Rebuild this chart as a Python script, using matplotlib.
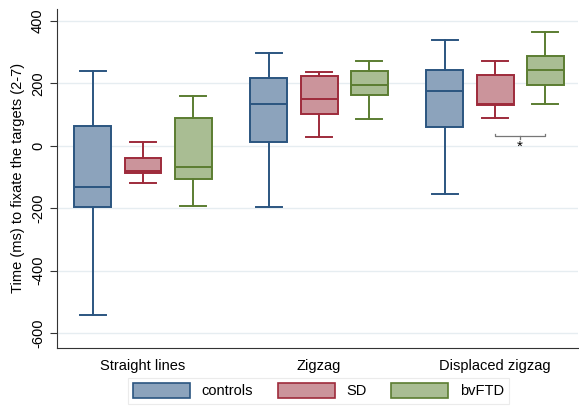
import matplotlib
matplotlib.use("Agg")
import matplotlib.pyplot as plt
from matplotlib.patches import Patch

plt.rcParams["font.family"] = ["Liberation Sans", "DejaVu Sans"]

# データ: 箱ひげ図の統計量 (ms)
categories = ["Straight lines", "Zigzag", "Displaced zigzag"]
groups = ["controls", "SD", "bvFTD"]

whislo = {
    "controls": [-542, -196, -154],
    "SD": [-119, 29, 89],
    "bvFTD": [-194, 87, 135],
}
q1 = {
    "controls": [-196, 13, 61],
    "SD": [-86, 102, 130],
    "bvFTD": [-105, 163, 196],
}
med = {
    "controls": [-132, 135, 176],
    "SD": [-80, 150, 133],
    "bvFTD": [-68, 195, 244],
}
q3 = {
    "controls": [64, 218, 242],
    "SD": [-40, 223, 226],
    "bvFTD": [90, 241, 287],
}
whishi = {
    "controls": [240, 296, 338],
    "SD": [12, 237, 271],
    "bvFTD": [159, 272, 365],
}

fills = {"controls": "#8ca3bc", "SD": "#cb949b", "bvFTD": "#a9bd93"}
edges = {"controls": "#2b5580", "SD": "#9e2b3b", "bvFTD": "#5b7d31"}
offsets = {"controls": -0.285, "SD": 0.0, "bvFTD": 0.285}

fig = plt.figure(figsize=(5.79, 4.08), dpi=100)
ax = fig.add_axes([0.098, 0.147, 0.9, 0.832])

for g in groups:
    stats = []
    for i in range(len(categories)):
        stats.append({
            "whislo": whislo[g][i], "q1": q1[g][i], "med": med[g][i],
            "q3": q3[g][i], "whishi": whishi[g][i], "fliers": [],
        })
    pos = [i + offsets[g] for i in range(len(categories))]
    ax.bxp(
        stats, positions=pos, widths=0.21, capwidths=0.15,
        patch_artist=True, showfliers=False, manage_ticks=False,
        boxprops=dict(facecolor=fills[g], edgecolor=edges[g], linewidth=1.4),
        medianprops=dict(color=edges[g], linewidth=1.4),
        whiskerprops=dict(color=edges[g], linewidth=1.4),
        capprops=dict(color=edges[g], linewidth=1.4),
    )

# 有意差の括弧 (Displaced zigzag: SD vs bvFTD)
x1 = 2 + offsets["SD"]
x2 = 2 + offsets["bvFTD"]
yb = 30
ax.plot([x1, x1, x2, x2], [yb + 8, yb, yb, yb + 8], color="#777777", lw=0.9)
ax.plot([(x1 + x2) / 2] * 2, [yb, yb - 8], color="#777777", lw=0.9)
ax.text((x1 + x2) / 2, yb - 12, "*", ha="center", va="top", fontsize=11)

ax.set_xlim(-0.49, 2.47)
ax.set_ylim(-648, 440)
ax.set_yticks(range(-600, 401, 200))
ax.set_yticklabels([str(v) for v in range(-600, 401, 200)], rotation=90, va="center")
ax.set_xticks(range(len(categories)))
ax.set_xticklabels(categories, fontsize=10.5)
ax.tick_params(axis="x", length=0, pad=8)
ax.tick_params(axis="y", length=5, labelsize=10.5, color="#333333")
ax.set_ylabel("Time (ms) to fixate the targets (2-7)", fontsize=10.5)
ax.grid(axis="y", color="#e6edf1", linewidth=1)
ax.set_axisbelow(True)
for s in ["top", "right"]:
    ax.spines[s].set_visible(False)
ax.spines["left"].set_color("#333333")
ax.spines["bottom"].set_color("#333333")

handles = [Patch(facecolor=fills[g], edgecolor=edges[g], linewidth=1.2, label=g) for g in groups]
leg = fig.legend(
    handles=handles, loc="center", bbox_to_anchor=(0.55, 0.042), ncol=3,
    fontsize=10.5, frameon=True, fancybox=False, handlelength=3.9, handleheight=1.15,
    columnspacing=1.7, borderpad=0.35,
)
leg.get_frame().set_edgecolor("#e6e6e6")
leg.get_frame().set_linewidth(0.8)

fig.savefig("out.png", dpi=100)
